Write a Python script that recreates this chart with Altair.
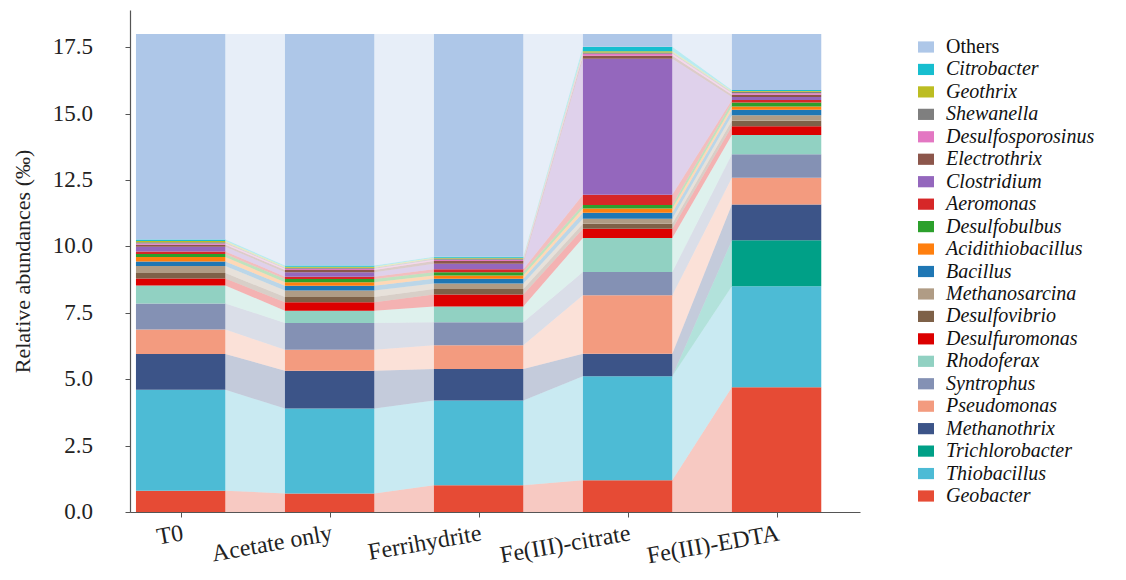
import json
import altair as alt
import pandas as pd

samples = ["T0", "Acetate only", "Ferrihydrite", "Fe(III)-citrate", "Fe(III)-EDTA"]

# stacking order: bottom -> top
genera = ["Geobacter", "Thiobacillus", "Trichlorobacter", "Methanothrix", "Pseudomonas",
          "Syntrophus", "Rhodoferax", "Desulfuromonas", "Desulfovibrio", "Methanosarcina",
          "Bacillus", "Acidithiobacillus", "Desulfobulbus", "Aeromonas", "Clostridium",
          "Electrothrix", "Desulfosporosinus", "Shewanella", "Geothrix", "Citrobacter", "Others"]

colors = ["#E64B35", "#4DBBD5", "#00A087", "#3C5488", "#F39B7F",
          "#8491B4", "#91D1C2", "#DC0000", "#7E6148", "#B09C85",
          "#1f77b4", "#ff7f0e", "#2ca02c", "#d62728", "#9467bd",
          "#8c564b", "#e377c2", "#7f7f7f", "#bcbd22", "#17becf", "#aec7e8"]

Geobacter = [0.80, 0.70, 1.01, 1.20, 4.70]
Thiobacillus = [3.80, 3.20, 3.19, 3.91, 3.80]
Trichlorobacter = [0.00, 0.00, 0.00, 0.00, 1.73]
Methanothrix = [1.35, 1.42, 1.18, 0.85, 1.35]
Pseudomonas = [0.92, 0.79, 0.90, 2.20, 1.00]
Syntrophus = [0.98, 1.01, 0.86, 0.88, 0.89]
Rhodoferax = [0.68, 0.46, 0.60, 1.28, 0.72]
Desulfuromonas = [0.26, 0.32, 0.45, 0.34, 0.33]
Desulfovibrio = [0.21, 0.19, 0.21, 0.19, 0.21]
Methanosarcina = [0.26, 0.25, 0.20, 0.19, 0.21]
Bacillus = [0.17, 0.18, 0.18, 0.23, 0.20]
Acidithiobacillus = [0.17, 0.13, 0.12, 0.16, 0.13]
Desulfobulbus = [0.11, 0.12, 0.13, 0.13, 0.15]
Aeromonas = [0.10, 0.09, 0.11, 0.38, 0.09]
Clostridium = [0.18, 0.17, 0.21, 5.12, 0.11]
Electrothrix = [0.07, 0.08, 0.10, 0.12, 0.09]
Desulfosporosinus = [0.05, 0.05, 0.05, 0.07, 0.06]
Shewanella = [0.05, 0.04, 0.04, 0.05, 0.05]
Geothrix = [0.04, 0.03, 0.03, 0.05, 0.03]
Citrobacter = [0.06, 0.05, 0.04, 0.17, 0.04]
Others = [7.74, 8.72, 8.39, 0.48, 2.11]

y_ticks = [0, 2.5, 5, 7.5, 10, 12.5, 15, 17.5]

series = [Geobacter, Thiobacillus, Trichlorobacter, Methanothrix, Pseudomonas,
          Syntrophus, Rhodoferax, Desulfuromonas, Desulfovibrio, Methanosarcina,
          Bacillus, Acidithiobacillus, Desulfobulbus, Aeromonas, Clostridium,
          Electrothrix, Desulfosporosinus, Shewanella, Geothrix, Citrobacter, Others]

HALF = 0.3  # half bar width in category units

# cumulative stacking
lows = {}
highs = {}
base = [0.0] * len(samples)
for g, vals in zip(genera, series):
    lows[g] = list(base)
    highs[g] = [b + v for b, v in zip(base, vals)]
    base = highs[g]

bar_rows = []
band_rows = []
for g in genera:
    for i in range(len(samples)):
        bar_rows.append({"genus": g, "x0": i - HALF, "x1": i + HALF,
                         "lo": lows[g][i], "hi": highs[g][i]})
    for i in range(len(samples) - 1):
        seg = f"{g}-{i}"
        band_rows.append({"genus": g, "seg": seg, "x": i + HALF,
                          "lo": lows[g][i], "hi": highs[g][i]})
        band_rows.append({"genus": g, "seg": seg, "x": i + 1 - HALF,
                          "lo": lows[g][i + 1], "hi": highs[g][i + 1]})

bar_df = pd.DataFrame(bar_rows)
band_df = pd.DataFrame(band_rows)
tick_df = pd.DataFrame({"v": y_ticks})

legend_order = genera[::-1]
legend_colors = colors[::-1]
color_scale = alt.Scale(domain=legend_order, range=legend_colors)

FONT = "Liberation Serif"

legend = alt.Legend(
    title=None, orient="none", legendX=786, legendY=27,
    symbolType="M-1,-0.7H1V0.7H-1Z", symbolSize=256, symbolStrokeWidth=0,
    symbolOpacity=1, labelFont=FONT, labelFontSize=20, labelColor="#111",
    labelFontStyle={"expr": "datum.label == 'Others' ? 'normal' : 'italic'"},
    rowPadding=2.45, labelOffset=10, labelLimit=300,
)

x_scale = alt.Scale(domain=[-0.34, 4.56], nice=False, zero=False)
y_scale = alt.Scale(domain=[0, 18.9], nice=False)

x_axis = alt.Axis(
    values=list(range(len(samples))),
    labelExpr=f"{json.dumps(samples)}[datum.value]",
    title=None, grid=False, labelAngle=-10, labelAlign="right", labelBaseline="top",
    labelFont=FONT, labelFontSize=24, labelColor="#222", labelPadding=4,
    tickSize=5, tickColor="#555", domainColor="#555", domainWidth=1.2,
)
y_axis = alt.Axis(
    values=y_ticks, labels=False,
    title="Relative abundances (‰)", grid=False,
    titleFont=FONT, titleFontSize=22, titleFontWeight="normal", titleColor="#222",
    titlePadding=90,
    tickSize=5, tickColor="#555", domainColor="#555", domainWidth=1.2,
)

bands = alt.Chart(band_df).mark_area(opacity=0.3).encode(
    x=alt.X("x:Q", scale=x_scale, axis=x_axis),
    y=alt.Y("lo:Q", scale=y_scale, axis=y_axis),
    y2="hi:Q",
    color=alt.Color("genus:N", scale=color_scale, legend=legend),
    detail="seg:N",
)

bars = alt.Chart(bar_df).mark_rect().encode(
    x=alt.X("x0:Q", scale=x_scale, axis=x_axis),
    x2="x1:Q",
    y=alt.Y("lo:Q", scale=y_scale, axis=y_axis),
    y2="hi:Q",
    color=alt.Color("genus:N", scale=color_scale, legend=legend),
)

# y tick labels, placed left of the axis with a gap as in the reference
tick_labels = alt.Chart(tick_df).mark_text(
    align="right", baseline="middle", font=FONT, fontSize=23, color="#222"
).encode(
    x=alt.value(-37),
    y=alt.Y("v:Q", scale=y_scale, axis=y_axis),
    text=alt.Text("v:Q", format=".1f"),
)

chart = alt.layer(bands, bars, tick_labels).properties(
    width=730, height=502,
    padding={"left": 122, "top": 2, "right": 258, "bottom": 68},
    autosize=alt.AutoSizeParams(type="none"),
).configure_view(stroke=None)

chart.save("out.html", embed_options={"renderer": "svg", "actions": False})
